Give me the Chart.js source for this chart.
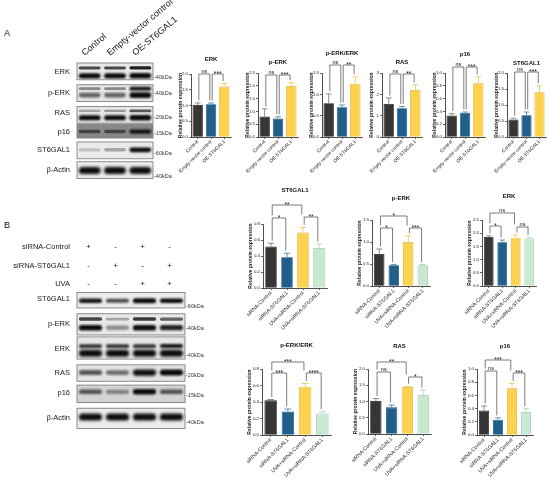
<!DOCTYPE html>
<html>
<head>
<meta charset="utf-8">
<script src="https://cdn.jsdelivr.net/npm/chart.js@4.4.0/dist/chart.umd.min.js"></script>
<style>
body { margin: 0; background: #fff; }
#fig { position: relative; width: 550px; height: 484px; overflow: hidden; font-family: "Liberation Sans", Arial, sans-serif; }
#fig canvas { position: absolute; }
.panel { position: absolute; font-size: 9px; color: #111; }
</style>
</head>
<body>
<div id="fig">
  <div class="panel" style="left:4px;top:28px;">A</div>
  <div class="panel" style="left:4px;top:220px;">B</div>
</div>
<script>
// ---------- Panel A ----------
const lanesA = ['Control', 'Empty-vector control', 'OE-ST6GAL1'];
const blotRowsA = ['ERK', 'p-ERK', 'RAS', 'p16', 'ST6GAL1', 'β-Actin'];
const markersA = ['-40kDa', '-40kDa', '-20kDa', '-15kDa', '-60kDa', '-40kDa'];

// band density per lane, 0..1 (upper band first for doublets)
const bandsA_ERK = [[0.6, 0.6, 0.75], [0.95, 0.9, 1]];
const bandsA_pERK = [[0.35, 0.35, 1], [0.5, 0.5, 1]];
const bandsA_RAS = [[0.25, 0.3, 0.55], [0.85, 0.85, 1]];
const bandsA_p16 = [[0.45, 0.45, 0.8]];
const bandsA_ST6 = [[0.15, 0.25, 0.95]];
const bandsA_actin = [[1, 1, 1]];

const erkA = [1.02, 1.04, 1.60];
const erkAErr = [0.06, 0.04, 0.10];
const perkA = [0.80, 0.72, 1.99];
const perkAErr = [0.30, 0.07, 0.13];
const ratioA = [0.79, 0.70, 1.25];
const ratioAErr = [0.22, 0.05, 0.16];
const rasA = [1.55, 1.35, 2.20];
const rasAErr = [0.28, 0.08, 0.25];
const p16A = [0.335, 0.38, 0.84];
const p16AErr = [0.03, 0.01, 0.10];
const st6A = [0.55, 0.68, 1.40];
const st6AErr = [0.04, 0.10, 0.20];

const ticksA_erk = ['0.0', '0.5', '1.0', '1.5', '2.0'];
const ticksA_perk = ['0.0', '0.5', '1.0', '1.5', '2.0', '2.5'];
const ticksA_ratio = ['0.0', '0.5', '1.0', '1.5'];
const ticksA_ras = ['0', '1', '2', '3'];
const ticksA_p16 = ['0.0', '0.2', '0.4', '0.6', '0.8', '1.0'];
const ticksA_st6 = ['0.0', '0.5', '1.0', '1.5', '2.0'];

const sigA_erk = [[0, 1, 'ns'], [1, 2, '***']];
const sigA_perk = [[0, 1, 'ns'], [1, 2, '***']];
const sigA_ratio = [[0, 1, 'ns'], [1, 2, '**']];
const sigA_ras = [[0, 1, 'ns'], [1, 2, '**']];
const sigA_p16 = [[0, 1, 'ns'], [1, 2, '***']];
const sigA_st6 = [[0, 1, 'ns'], [1, 2, '***']];

// ---------- Panel B ----------
const groupsB = ['siRNA-Control', 'siRNA-ST6GAL1', 'UVA+siRNA-Control', 'UVA+siRNA-ST6GAL1'];
const treatRows = ['siRNA-Control', 'siRNA-ST6GAL1', 'UVA'];
const treatSigns = [['+', '-', '+', '-'], ['-', '+', '-', '+'], ['-', '-', '+', '+']];
const blotRowsB = ['ST6GAL1', 'p-ERK', 'ERK', 'RAS', 'p16', 'β-Actin'];
const markersB = ['-60kDa', '-40kDa', '-40kDa', '-20kDa', '-15kDa', '-40kDa'];

const bandsB_ST6 = [[0.8, 0.6, 1, 0.85]];
const bandsB_pERK = [[0.6, 0.25, 0.65, 0.5], [0.95, 0.35, 0.95, 0.75]];
const bandsB_ERK = [[0.7, 0.7, 0.7, 0.8], [1, 1, 1, 1]];
const bandsB_RAS = [[0.55, 0.45, 1, 0.9]];
const bandsB_p16 = [[0.55, 0.35, 1, 0.55]];
const bandsB_actin = [[1, 1, 1, 1]];

const st6B = [0.52, 0.385, 0.695, 0.50];
const st6BErr = [0.04, 0.05, 0.06, 0.05];
const perkB = [0.73, 0.47, 1.00, 0.47];
const perkBErr = [0.11, 0.02, 0.14, 0.02];
const erkB = [1.86, 1.66, 1.83, 1.80];
const erkBErr = [0.04, 0.08, 0.10, 0.04];
const ratioB = [0.42, 0.285, 0.585, 0.262];
const ratioBErr = [0.01, 0.03, 0.04, 0.02];
const rasB = [1.02, 0.82, 1.45, 1.20];
const rasBErr = [0.07, 0.07, 0.02, 0.15];
const p16B = [0.37, 0.23, 0.71, 0.35];
const p16BErr = [0.07, 0.03, 0.07, 0.05];

const ticksB_st6 = ['0.0', '0.2', '0.4', '0.6', '0.8'];
const ticksB_perk = ['0.0', '0.5', '1.0', '1.5'];
const ticksB_erk = ['0.0', '0.5', '1.0', '1.5', '2.0', '2.5'];
const ticksB_ratio = ['0.0', '0.2', '0.4', '0.6', '0.8'];
const ticksB_ras = ['0.0', '0.5', '1.0', '1.5', '2.0'];
const ticksB_p16 = ['0.0', '0.2', '0.4', '0.6', '0.8', '1.0'];

const sigB_st6 = [[0, 2, '**'], [0, 1, '*'], [2, 3, '**']];
const sigB_perk = [[0, 2, '*'], [0, 1, '*'], [2, 3, '***']];
const sigB_erk = [[0, 2, 'ns'], [0, 1, '*'], [2, 3, 'ns']];
const sigB_ratio = [[0, 2, '***'], [0, 1, '***'], [2, 3, '****']];
const sigB_ras = [[0, 2, '**'], [0, 1, 'ns'], [2, 3, '*']];
const sigB_p16 = [[0, 2, '***'], [0, 1, 'ns'], [2, 3, '***']];

// ---------- styles ----------
const FONT = '"Liberation Sans", Arial, sans-serif';
Chart.defaults.font.family = FONT;
Chart.defaults.color = '#1a1a1a';
Chart.defaults.animation = false;

const fill3 = ['#363636', '#205f8c', '#fdd24f'];
const edge3 = ['#1e1e1e', '#174a70', '#e0ad35'];
const err3 = ['#707070', '#3a78a6', '#eec24a'];
const fill4 = fill3.concat('#c9e8d1');
const edge4 = edge3.concat('#98c4a4');
const err4 = err3.concat('#a6d0b2');

const fig = document.getElementById('fig');
function addCanvas(left, top, w, h) {
  const c = document.createElement('canvas');
  c.width = w;
  c.height = h;
  c.style.left = left + 'px';
  c.style.top = top + 'px';
  fig.appendChild(c);
  return c;
}

// bar chart with error bars, significance brackets and title
function barChart(p) {
  const padL = 24, padR = 3;
  const left = p.axisX - p.yW - padL;
  const w = p.right - left + padR;
  const h = p.bottom - p.canvasTop + p.xH;
  const cv = addCanvas(left, p.canvasTop, w, h);
  const toY = v => v - p.canvasTop;

  const deco = {
    id: 'deco',
    afterDatasetsDraw(chart) {
      const { ctx, chartArea: a, scales: { y } } = chart;
      const bars = chart.getDatasetMeta(0).data;
      const errTop = p.values.map((v, i) => y.getPixelForValue(v + p.errors[i]));
      ctx.save();
      bars.forEach((b, i) => {
        const cap = b.width * 0.28;
        ctx.strokeStyle = p.errColors[i];
        ctx.lineWidth = 0.8;
        ctx.beginPath();
        ctx.moveTo(b.x, b.y);
        ctx.lineTo(b.x, errTop[i]);
        ctx.moveTo(b.x - cap, errTop[i]);
        ctx.lineTo(b.x + cap, errTop[i]);
        ctx.stroke();
      });

      const lv = p.levels.map(toY);
      ctx.strokeStyle = '#444';
      ctx.lineWidth = 0.7;
      ctx.fillStyle = '#111';
      ctx.textAlign = 'center';
      ctx.textBaseline = 'alphabetic';
      p.sig.forEach(([i, j, txt], k) => {
        const yb = lv[k];
        const legEnd = idx => {
          let lim = errTop[idx];
          p.sig.forEach(([i2, j2], k2) => {
            if (k2 !== k && lv[k2] > yb && i2 <= idx && idx <= j2) lim = Math.min(lim, lv[k2]);
          });
          return lim - 2.5;
        };
        const x1 = bars[i].x + 1.2, x2 = bars[j].x - 1.2;
        ctx.beginPath();
        ctx.moveTo(x1, legEnd(i));
        ctx.lineTo(x1, yb);
        ctx.lineTo(x2, yb);
        ctx.lineTo(x2, legEnd(j));
        ctx.stroke();
        const star = txt.startsWith('*');
        ctx.font = (star ? '6.5px ' : '5.5px ') + FONT;
        ctx.fillText(txt, (x1 + x2) / 2, star ? yb + 2.2 : yb - 1.3);
      });

      ctx.font = 'bold 6px ' + FONT;
      ctx.textBaseline = 'middle';
      ctx.fillText(p.title, (a.left + a.right) / 2, toY(p.titleY));
      ctx.restore();
    }
  };

  new Chart(cv, {
    type: 'bar',
    data: {
      labels: p.groups,
      datasets: [{
        data: p.values,
        backgroundColor: p.colors,
        borderColor: p.borders,
        borderWidth: 0.8,
        barPercentage: p.barPct,
        categoryPercentage: 1
      }]
    },
    options: {
      responsive: false,
      layout: { padding: { left: padL, right: padR, top: p.top - p.canvasTop, bottom: 0 } },
      plugins: { legend: { display: false }, tooltip: { enabled: false } },
      scales: {
        x: {
          grid: { drawOnChartArea: false, offset: false, tickLength: 2, color: '#222', lineWidth: 0.7 },
          border: { color: '#222', width: 0.8 },
          ticks: { font: { size: p.xFont }, minRotation: 45, maxRotation: 45, padding: 0, autoSkip: false, color: '#222' },
          afterFit: s => { s.height = p.xH; }
        },
        y: {
          min: 0,
          max: parseFloat(p.ticks[p.ticks.length - 1]),
          grid: { drawOnChartArea: false, tickLength: 2, color: '#222', lineWidth: 0.7 },
          border: { color: '#222', width: 0.8 },
          ticks: { font: { size: 4.4 }, padding: 1, color: '#222', callback: (v, i) => p.ticks[i] },
          afterBuildTicks: s => { s.ticks = p.ticks.map(t => ({ value: parseFloat(t) })); },
          title: { display: true, text: 'Relative protein expression', font: { size: 5, weight: 'bold' }, padding: 0, color: '#222' },
          afterFit: s => { s.width = p.yW; }
        }
      }
    },
    plugins: [deco]
  });
}

function drawBand(ctx, cx, cy, w, h, d) {
  ctx.save();
  ctx.filter = 'blur(' + (0.22 * h).toFixed(2) + 'px)';
  ctx.fillStyle = 'rgba(10,10,10,' + Math.min(1, d * 1.2) + ')';
  ctx.beginPath();
  if (ctx.roundRect) ctx.roundRect(cx - w / 2, cy - h / 2, w, h, h / 2);
  else ctx.rect(cx - w / 2, cy - h / 2, w, h);
  ctx.fill();
  ctx.restore();
}

// western blot strip, drawn on the chart's lane (x) and page-pixel (y) scales
function blotChart(p) {
  const cv = addCanvas(p.left, p.canvasTop, p.w, p.h);
  const deco = {
    id: 'blot',
    beforeDatasetsDraw(chart) {
      const { ctx, scales: { x, y } } = chart;
      const laneW = x.getPixelForValue(2) - x.getPixelForValue(1);
      p.bands.forEach((rowBands, k) => {
        const t = y.getPixelForValue(p.boxes[k][0]);
        const b = y.getPixelForValue(p.boxes[k][1]);
        const l = x.getPixelForValue(0.5), r = x.getPixelForValue(p.lanes.length + 0.5);
        ctx.save();
        ctx.fillStyle = p.boxFill[k];
        ctx.fillRect(l, t, r - l, b - t);
        ctx.beginPath();
        ctx.rect(l, t, r - l, b - t);
        ctx.clip();
        rowBands.forEach((dens, bi) => {
          const cy = y.getPixelForValue(p.bandY[k][bi]);
          dens.forEach((d, lane) => {
            drawBand(ctx, x.getPixelForValue(lane + 1), cy, laneW * 0.86, p.bandH[k][bi] * (0.6 + 0.4 * d), d);
          });
        });
        ctx.restore();
        ctx.save();
        ctx.strokeStyle = '#808080';
        ctx.lineWidth = 0.9;
        ctx.strokeRect(l, t, r - l, b - t);
        ctx.restore();
      });
      ctx.save();
      ctx.fillStyle = '#111';
      if (p.showLanes) {
        ctx.font = '9px ' + FONT;
        ctx.textAlign = 'left';
        ctx.textBaseline = 'alphabetic';
        p.lanes.forEach((name, lane) => {
          ctx.save();
          ctx.translate(x.getPixelForValue(lane + 1) - 5, y.getPixelForValue(p.laneLabelY));
          ctx.rotate(-40 * Math.PI / 180);
          ctx.fillText(name, 0, 0);
          ctx.restore();
        });
      }
      if (p.signs) {
        ctx.font = '8px ' + FONT;
        ctx.textAlign = 'center';
        ctx.textBaseline = 'middle';
        p.signs.forEach((row, r) => {
          row.forEach((s, lane) => {
            ctx.fillText(s, x.getPixelForValue(lane + 1) - 2, y.getPixelForValue(p.signY[r]));
          });
        });
      }
      ctx.restore();
    }
  };

  new Chart(cv, {
    type: 'scatter',
    data: { datasets: [] },
    options: {
      responsive: false,
      layout: { padding: { top: p.padTop, bottom: p.padBottom, left: 0, right: 0 } },
      plugins: { legend: { display: false }, tooltip: { enabled: false } },
      scales: {
        x: {
          type: 'linear', position: 'top', min: 0.5, max: p.lanes.length + 0.5,
          grid: { display: false, drawTicks: false }, border: { display: false },
          ticks: { display: false },
          afterFit: s => { s.height = p.topH; }
        },
        y: {
          type: 'linear', position: 'left', reverse: true, min: p.yMin, max: p.yMax,
          grid: { display: false, drawTicks: false }, border: { display: false },
          ticks: { font: { size: p.labelFont }, padding: 7, autoSkip: false, color: '#1a1a1a',
                   callback: (v, i) => p.leftLabels[i] },
          afterBuildTicks: s => { s.ticks = p.leftY.map(v => ({ value: v })); },
          afterFit: s => { s.width = p.leftW; }
        },
        y2: {
          type: 'linear', position: 'right', reverse: true, min: p.yMin, max: p.yMax,
          grid: { display: false, drawTicks: false }, border: { display: false },
          ticks: { font: { size: 5.5 }, padding: 1, autoSkip: false, color: '#333',
                   callback: (v, i) => p.markers[i] },
          afterBuildTicks: s => { s.ticks = p.markerY.map(v => ({ value: v })); },
          afterFit: s => { s.width = p.rightW; }
        }
      }
    },
    plugins: [deco]
  });
}

// ---------- blots ----------
blotChart({
  left: 0, canvasTop: 0, w: 205, h: 190, topH: 63, padTop: 0, padBottom: 10, leftW: 77, rightW: 52,
  yMin: 63, yMax: 180, showLanes: true, laneLabelY: 56, labelFont: 7.5,
  lanes: lanesA,
  leftLabels: blotRowsA, leftY: [72, 93, 114, 132.5, 151.5, 171.5],
  markers: markersA, markerY: [78, 94, 118, 134, 155, 178],
  boxes: [[63, 80], [85, 102], [107, 124], [125, 139], [143, 160], [163, 180]],
  boxFill: ['#e8e8e8', '#e6e6e6', '#e6e6e6', '#878787', '#eaeaea', '#ececec'],
  bands: [bandsA_ERK, bandsA_pERK, bandsA_RAS, bandsA_p16, bandsA_ST6, bandsA_actin],
  bandY: [[68, 76], [89, 95.5], [111.5, 118.5], [132.5], [151], [172]],
  bandH: [[3.5, 5.5], [3.8, 5.8], [3.2, 5.5], [4.5], [5], [7]]
});

blotChart({
  left: 0, canvasTop: 228, w: 215, h: 212, topH: 0, padTop: 8, padBottom: 8, leftW: 77, rightW: 30,
  yMin: 236, yMax: 432, showLanes: false, labelFont: 7.5,
  lanes: groupsB,
  leftLabels: treatRows.concat(blotRowsB), leftY: [244, 263, 282, 298, 324, 349, 374, 395, 421],
  signs: treatSigns, signY: [244, 263, 282],
  markers: markersB, markerY: [305, 328, 356, 377, 398, 426],
  boxes: [[291, 307], [313, 335], [337, 360], [366, 383], [387, 405], [411, 432]],
  boxFill: ['#ececec', '#e8e8e8', '#e6e6e6', '#e4e4e4', '#d4d4d4', '#ececec'],
  bands: [bandsB_ST6, bandsB_pERK, bandsB_ERK, bandsB_RAS, bandsB_p16, bandsB_actin],
  bandY: [[299.5], [318.5, 327.5], [346.5, 354], [374], [394], [420]],
  bandH: [[5], [4, 5.8], [4.2, 7], [6.2], [5.5], [7]]
});

// ---------- bar charts, panel A ----------
const baseA = { groups: lanesA, colors: fill3, borders: edge3, errColors: err3, canvasTop: 45, bottom: 137,
                yW: 13, xH: 50, xFont: 4.8, barPct: 0.78 };
barChart({ ...baseA, title: 'ERK', values: erkA, errors: erkAErr, ticks: ticksA_erk, sig: sigA_erk,
           axisX: 191, top: 74, right: 231, titleY: 59, levels: [74, 74] });
barChart({ ...baseA, title: 'p-ERK', values: perkA, errors: perkAErr, ticks: ticksA_perk, sig: sigA_perk,
           axisX: 258, top: 73, right: 298, titleY: 62, levels: [75, 75] });
barChart({ ...baseA, title: 'p-ERK/ERK', values: ratioA, errors: ratioAErr, ticks: ticksA_ratio, sig: sigA_ratio,
           axisX: 322, top: 73, right: 362, titleY: 53, levels: [65, 65] });
barChart({ ...baseA, title: 'RAS', values: rasA, errors: rasAErr, ticks: ticksA_ras, sig: sigA_ras,
           axisX: 382, top: 73, right: 422, titleY: 62, levels: [74, 74] });
barChart({ ...baseA, title: 'p16', values: p16A, errors: p16AErr, ticks: ticksA_p16, sig: sigA_p16,
           axisX: 445, top: 73, right: 485, titleY: 54, levels: [67, 67] });
barChart({ ...baseA, title: 'ST6GAL1', values: st6A, errors: st6AErr, ticks: ticksA_st6, sig: sigA_st6,
           axisX: 507, top: 73, right: 546, titleY: 63, levels: [72, 72] });

// ---------- bar charts, panel B ----------
const baseB = { groups: groupsB, colors: fill4, borders: edge4, errColors: err4, yW: 15, xH: 52, xFont: 5.2, barPct: 0.72 };
barChart({ ...baseB, title: 'ST6GAL1', values: st6B, errors: st6BErr, ticks: ticksB_st6, sig: sigB_st6,
           canvasTop: 183, axisX: 263, top: 224, bottom: 288, right: 327, titleY: 190, levels: [205, 218, 217] });
barChart({ ...baseB, title: 'p-ERK', values: perkB, errors: perkBErr, ticks: ticksB_perk, sig: sigB_perk,
           canvasTop: 183, axisX: 372, top: 220, bottom: 286, right: 430, titleY: 198, levels: [216, 228, 228] });
barChart({ ...baseB, title: 'ERK', values: erkB, errors: erkBErr, ticks: ticksB_erk, sig: sigB_erk,
           canvasTop: 183, axisX: 482, top: 220, bottom: 286, right: 536, titleY: 196, levels: [213, 226, 227] });
barChart({ ...baseB, title: 'p-ERK/ERK', values: ratioB, errors: ratioBErr, ticks: ticksB_ratio, sig: sigB_ratio,
           canvasTop: 338, axisX: 262, top: 369, bottom: 435, right: 331, titleY: 345, levels: [362, 373, 373] });
barChart({ ...baseB, title: 'RAS', values: rasB, errors: rasBErr, ticks: ticksB_ras, sig: sigB_ras,
           canvasTop: 338, axisX: 368, top: 369, bottom: 434, right: 431, titleY: 346, levels: [362, 372, 377] });
barChart({ ...baseB, title: 'p16', values: p16B, errors: p16BErr, ticks: ticksB_p16, sig: sigB_p16,
           canvasTop: 338, axisX: 477, top: 369, bottom: 435, right: 533, titleY: 346, levels: [360, 371, 373] });
</script>
</body>
</html>
